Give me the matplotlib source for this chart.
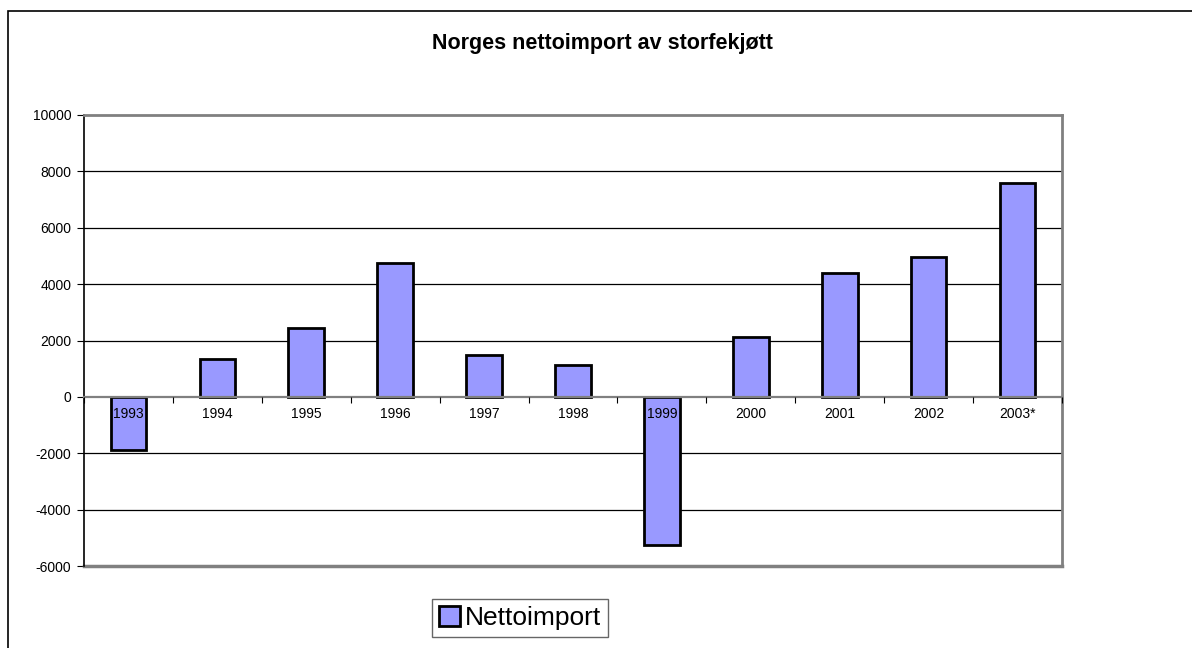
import matplotlib.pyplot as plt
import numpy as np
from matplotlib.patches import Rectangle

plt.rcParams['font.family'] = ['Liberation Sans', 'DejaVu Sans']

years = ["1993", "1994", "1995", "1996", "1997", "1998", "1999", "2000", "2001", "2002", "2003*"]
nettoimport = [-1880, 1340, 2455, 4745, 1470, 1140, -5260, 2110, 4380, 4950, 7600]
yticks = [-6000, -4000, -2000, 0, 2000, 4000, 6000, 8000, 10000]

W, H = 1192, 648
fig = plt.figure(figsize=(W / 100, H / 100), dpi=100)

# outer chart frame (cut off at right/bottom like the source)
fig.patches.append(Rectangle((8 / W, -0.1), 1.2, 1 - 11 / H + 0.1, transform=fig.transFigure,
                             fill=False, edgecolor="black", linewidth=1.2))

ax = fig.add_axes([84 / W, 1 - 566 / H, (1062 - 84) / W, (566 - 115) / H])

x = np.arange(len(years))
ax.bar(x, nettoimport, width=0.4, color="#9999ff", edgecolor="black", linewidth=2,
       label="Nettoimport", zorder=3)

ax.set_xlim(-0.5, len(years) - 0.5)
ax.set_ylim(-6000, 10000)
ax.set_yticks(yticks)
ax.set_yticklabels([str(v) for v in yticks], fontsize=10)
ax.tick_params(axis="y", direction="out", length=5, width=0.8, pad=4)

for v in yticks[1:-1]:
    if v != 0:
        ax.axhline(v, color="black", linewidth=0.9, zorder=1)

# category axis on the zero line, drawn over the bars
ax.spines["bottom"].set_position(("data", 0))
ax.spines["bottom"].set_color("#808080")
ax.spines["bottom"].set_linewidth(1.6)
ax.spines["bottom"].set_zorder(4)
ax.xaxis.set_zorder(5)
ax.set_xticks(x)
ax.set_xticklabels(years, fontsize=10)
ax.tick_params(axis="x", which="major", length=0, pad=7)
ax.set_xticks(np.arange(len(years) + 1) - 0.5, minor=True)
ax.tick_params(axis="x", which="minor", direction="out", length=4, width=0.8, color="black")

for s in ["top", "right"]:
    ax.spines[s].set_color("#808080")
    ax.spines[s].set_linewidth(2)
ax.spines["left"].set_color("black")
ax.spines["left"].set_linewidth(1.2)
# bottom border of plot area
ax.axhline(-6000, color="#808080", linewidth=2.5, clip_on=False, zorder=2)

fig.text(602 / W, 1 - 44 / H, "Norges nettoimport av storfekjøtt", ha="center", va="center",
         fontsize=15.5, fontweight="bold")

leg = fig.legend(loc="center", bbox_to_anchor=(520 / W, 1 - 618 / H), fontsize=19,
                 frameon=True, fancybox=False, edgecolor="#404040", handlelength=0.8,
                 handleheight=0.8, handletextpad=0.2, borderpad=0.25)
leg.get_frame().set_linewidth(1.0)

fig.savefig("out.png", dpi=100)
